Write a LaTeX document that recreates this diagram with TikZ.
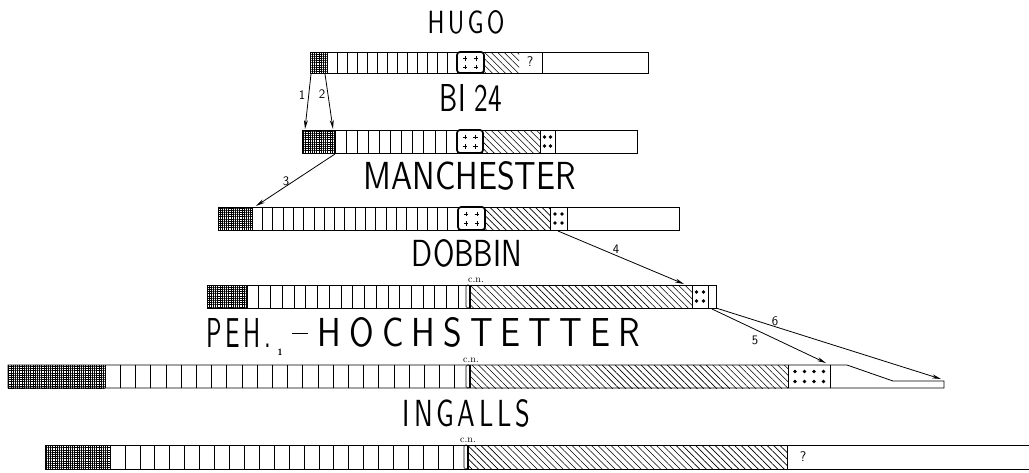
\documentclass[tikz,border=0pt]{standalone}
\usetikzlibrary{patterns.meta,arrows.meta}
\newcommand\barcells[5]{%
  \foreach \k in {1,...,#3}{\pgfmathsetmacro\xx{#1+(#2-#1)*\k/#3}\draw[cellline] (\xx,#4) -- (\xx,#5);}}
\newcommand\plusbox[4]{%
  \draw[line width=1.7pt,rounded corners=3pt] (#1,#3) rectangle (#2,#4);
  \pgfmathsetmacro\pxa{#1+(#2-#1)*0.3}\pgfmathsetmacro\pxb{#1+(#2-#1)*0.7}%
  \pgfmathsetmacro\pya{#3+(#4-#3)*0.3}\pgfmathsetmacro\pyb{#3+(#4-#3)*0.72}%
  \foreach \px in {\pxa,\pxb}{\foreach \py in {\pya,\pyb}{%
    \draw[line width=0.6pt] (\px-2.3,\py) -- (\px+2.3,\py) (\px,\py-2.3) -- (\px,\py+2.3);}}}
\newcommand\cnmark[3]{%
  \draw[line width=0.6pt,rounded corners=1.5pt] (#1-4,#2) rectangle (#1,#3);
  \draw[line width=1.6pt] (#1,#2) -- (#1,#3);}
\newcommand\lsp{\kern0.14em}
\newcommand\wsp{\kern0.24em}
\tikzset{
  outline/.style={line width=0.8pt},
  cellline/.style={line width=0.6pt},
  hatchfill/.style={pattern={Lines[angle=-45,distance=4.6pt,line width=0.6pt]}},
  crossfill/.style={pattern={Hatch[angle=0,distance=2.2pt,line width=0.7pt]}},
  arr/.style={line width=0.8pt,-{Stealth[length=9pt,width=4pt]}},
  title/.style={font=\sffamily,inner sep=0pt},
  num/.style={font=\sffamily\fontsize{13}{13}\selectfont,inner sep=0pt},
  cn/.style={font=\fontsize{10}{10}\selectfont,inner sep=0pt},
  qm/.style={font=\sffamily\fontsize{14}{14}\selectfont,inner sep=0pt},
  dot/.style={fill=black},
}
\begin{document}
\begin{tikzpicture}[x=1pt,y=-1pt]
\useasboundingbox (0,0) rectangle (1029,472);

% ---------------- HUGO
\node[title] (thugo) at (466,22) {\resizebox{77pt}{23pt}{H\lsp U\lsp G\lsp O}};
\fill[crossfill] (310,52) rectangle (327,73);
\barcells{327}{457}{13}{52}{73}
\fill[hatchfill] (484,52) rectangle (519,73);
\node[qm] (qhugo) at (530,62) {?};
\draw[cellline] (542,52) -- (542,73);
\draw[outline] (310,52) rectangle (648,73);
\draw[cellline] (327,52) -- (327,73);
\plusbox{457}{484}{52}{73}

% ---------------- BI 24
\node[title] (tbi) at (471,98) {\resizebox{62pt}{27pt}{BI 24}};
\fill[crossfill] (302,130) rectangle (335,153);
\barcells{335}{457}{11}{130}{153}
\fill[hatchfill] (483,130) rectangle (540,153);
\draw[cellline] (540,130) -- (540,153) (555,130) -- (555,153);
\foreach \px in {544.5,550.5}{\foreach \py in {137,146}{\fill[dot] (\px,\py) circle (1.9);}}
\draw[outline] (302,130) rectangle (637,153);
\draw[cellline] (335,130) -- (335,153);
\plusbox{457}{483}{130}{153}

% ---------------- MANCHESTER
\node[title] (tman) at (470,176) {\resizebox{212pt}{28pt}{MANCHESTER}};
\fill[crossfill] (218,207) rectangle (252,230);
\barcells{252}{458}{20}{207}{230}
\fill[hatchfill] (485,207) rectangle (550,230);
\draw[cellline] (550,207) -- (550,230) (567,207) -- (567,230);
\foreach \px in {555,562}{\foreach \py in {214,223}{\fill[dot] (\px,\py) circle (1.9);}}
\draw[outline] (218,207) rectangle (679,230);
\draw[cellline] (252,207) -- (252,230);
\plusbox{458}{485}{207}{230}

% ---------------- DOBBIN
\node[title] (tdob) at (467,253) {\resizebox{110pt}{27pt}{DOBBIN}};
\fill[crossfill] (207,285) rectangle (247,308);
\barcells{247}{470}{19}{285}{308}
\fill[hatchfill] (470,285) rectangle (692,308);
\draw[cellline] (692,285) -- (692,308) (708,285) -- (708,308);
\foreach \px in {696.5,703.5}{\foreach \py in {292,301}{\fill[dot] (\px,\py) circle (1.9);}}
\draw[outline] (207,285) rectangle (716,308);
\draw[cellline] (247,285) -- (247,308);
\cnmark{470}{285}{308}
\node[cn] (cndob) at (476,280) {c.n.};

% ---------------- PEH.- HOCHSTETTER
\node[title] (tpeh) at (239,332.5) {\resizebox{64pt}{29pt}{P\lsp E\lsp H\lsp .}};
\node[font=\sffamily\bfseries\fontsize{9}{9}\selectfont,inner sep=0pt] (tpehone) at (280,352) {1};
\draw[line width=1pt] (292,333) -- (308,333);
\node[title] (thoch) at (479,332.5) {\resizebox{322pt}{29pt}{H\wsp O\wsp C\wsp H\wsp S\wsp T\wsp E\wsp T\wsp T\wsp E\wsp R}};
\fill[crossfill] (8,365) rectangle (105,388);
\barcells{105}{470}{24}{365}{388}
\fill[hatchfill] (470,365) rectangle (788,388);
\draw[cellline] (788,365) -- (788,388) (830,365) -- (830,388);
\foreach \px in {795,804.5,814,823.5}{\foreach \py in {371.5,381.5}{\fill[dot] (\px,\py) circle (1.9);}}
\draw[outline] (8,365) -- (847,365) -- (893,381) -- (944,381) -- (944,388) -- (8,388) -- cycle;
\draw[cellline] (105,365) -- (105,388);
\cnmark{470}{365}{388}
\node[cn] (cnpeh) at (471,360) {c.n.};

% ---------------- INGALLS
\node[title] (ting) at (466.5,413.5) {\resizebox{127pt}{27pt}{I\lsp N\lsp G\lsp A\lsp L\lsp L\lsp S}};
\fill[crossfill] (45,445) rectangle (110,469);
\barcells{110}{468}{24}{445}{469}
\fill[hatchfill] (468,445) rectangle (787,469);
\draw[cellline] (787,445) -- (787,469);
\draw[outline] (1029,445) -- (45,445) -- (45,469) -- (1029,469);
\draw[cellline] (110,445) -- (110,469);
\cnmark{468}{445}{469}
\node[cn] (cning) at (468,440) {c.n.};
\node[qm] (qing) at (803,457) {?};

% ---------------- arrows
\coordinate (a1s) at (311,74);  \coordinate (a1e) at (305,129);
\coordinate (a2s) at (325,74);  \coordinate (a2e) at (333,129);
\coordinate (a3s) at (335,154); \coordinate (a3e) at (256,206);
\coordinate (a4s) at (558,231); \coordinate (a4e) at (684,284);
\coordinate (a5s) at (712,309); \coordinate (a5e) at (826,363);
\coordinate (a6s) at (716,308); \coordinate (a6e) at (941,379);
\draw[arr] (a1s) -- (a1e);
\draw[arr] (a2s) -- (a2e);
\draw[arr] (a3s) -- (a3e);
\draw[arr] (a4s) -- (a4e);
\draw[arr] (a5s) -- (a5e);
\draw[arr] (a6s) -- (a6e);
\node[num] (l1) at (302,95) {1};
\node[num] (l2) at (322,94) {2};
\node[num] (l3) at (286,181) {3};
\node[num] (l4) at (616,249) {4};
\node[num] (l5) at (755,340) {5};
\node[num] (l6) at (775,321) {6};
\end{tikzpicture}
\end{document}
